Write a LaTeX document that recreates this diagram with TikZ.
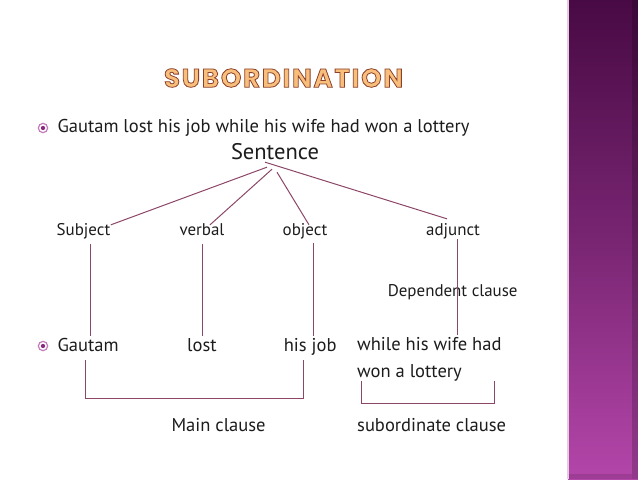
\documentclass[tikz,border=0pt]{standalone}
\usepackage{fontspec}
\setmainfont{PT Sans}
\newfontfamily\titlefont[LetterSpace=7]{Poppins}
\usetikzlibrary{positioning}
\definecolor{ink}{HTML}{1C1C1C}
\definecolor{linec}{HTML}{8C4668}
\definecolor{bulring}{HTML}{C27CBA}
\definecolor{bulcore}{HTML}{8A2A80}
\definecolor{bartop}{HTML}{480A44}
\definecolor{barbot}{HTML}{B446AA}
\definecolor{titlefill}{HTML}{F8BE7C}
% 描边字：填充橙色，描边棕色
\newcommand{\outlinetext}[1]{\textcolor{titlefill}{%
  \special{pdf:literal direct q 0.55 0.25 0.16 RG 0.6 w 2 Tr}#1\special{pdf:literal direct 0 Tr Q}}}
\tikzset{
  base/.style={inner sep=0pt,text depth=.25em,text height=.75em,text=ink},
  lbl/.style={base,font=\fontsize{12.7}{14}\selectfont},
  txt/.style={base,anchor=west,font=\fontsize{13.9}{16}\selectfont},
  big/.style={base,font=\fontsize{16.9}{19}\selectfont},
  bul/.style={circle,draw=bulring,line width=0.9pt,inner sep=0pt,minimum size=7pt,
    path picture={\fill[bulcore] (path picture bounding box.center) circle (1.6pt);}},
  br/.style={draw=linec,line width=0.75pt}
}
\begin{document}
\begin{tikzpicture}[x=0.75pt,y=-0.75pt,line width=0.75pt]
\useasboundingbox (0,0) rectangle (638,479);
% ---------- 右侧紫色竖条 ----------
\shade[top color=bartop,bottom color=barbot,middle color=bartop!55!barbot] (568,0) rectangle (638,479);
\fill[black,opacity=0.18] (632,0) rectangle (638,479);
\fill[black,opacity=0.12] (568,474) rectangle (632,479);
\fill[bulring!40] (567,0) rectangle (569,479);
% ---------- 标题 ----------
\node[inner sep=0pt] (ttl) at (283.5,78)
  {\titlefont\bfseries\fontsize{19.5}{22}\selectfont\outlinetext{SUBORDINATION}};
% ---------- 句子与树 ----------
\node[bul] (b1) at (43,128) {};
\node[txt] (s1) at (57,128.7) {Gautam lost his job while his wife had won a lottery};
\node[big] (sent) at (275,156) {Sentence};
\foreach \n/\x/\t in {subj/83.5/Subject,verb/202/verbal,obj/305/object,adj/453/adjunct}
  \node[lbl] (\n) at (\x,232) {\t};
\node[lbl] (dep) at (452.7,293) {Dependent clause};
% 第三行
\node[bul] (b2) at (43,346) {};
\node[txt] (g2) at (57,348.5) {Gautam};
\node[txt] (lost) at (186.7,348.5) {lost};
\node[txt] (job) at (283.3,348.5) {his job};
\node[txt] (while) at (356.7,347.4) {while his wife had};
\node[txt] (lot) at (356.7,373.7) {won a lottery};
\node[txt] (mainc) at (171,428) {Main clause};
\node[txt] (subc) at (356.7,428) {subordinate clause};
% 树枝（从 Sentence 下方出发）
\draw[br] ([shift={(-8,4)}]sent.south) -- (subj.north east);
\draw[br] ([shift={(-3,6)}]sent.south) -- ([xshift=6]verb.north);
\draw[br] ([shift={(2,9)}]sent.south) -- ([xshift=3]obj.north);
\draw[br] ([shift={(-10,-1)}]sent.south) -- ([shift={(-6,-6)}]adj.north);
% 竖线（x 固定）
\foreach \a/\b/\x/\s in {subj/g2/90.3/3.5pt,verb/lost/202.3/3.5pt,obj/job/313.3/2.7pt,adj/while/457.5/0pt}
  \draw[br,shorten <=\s,shorten >=3.8pt] (\a.south -| \x,0) -- (\b.north -| \x,0);
% 括号
\coordinate (mb) at (0,398);
\coordinate (sb) at (0,403);
\draw[br,shorten <=3.2pt,shorten >=3.2pt] (g2.south -| 85,0) -- (mb -| 85,0) -| (job.south -| 303.3,0);
\draw[br] (lot.south -| 361,0) -- (sb -| 361,0) -| (lot.south -| 494.3,0);
\end{tikzpicture}
\end{document}
